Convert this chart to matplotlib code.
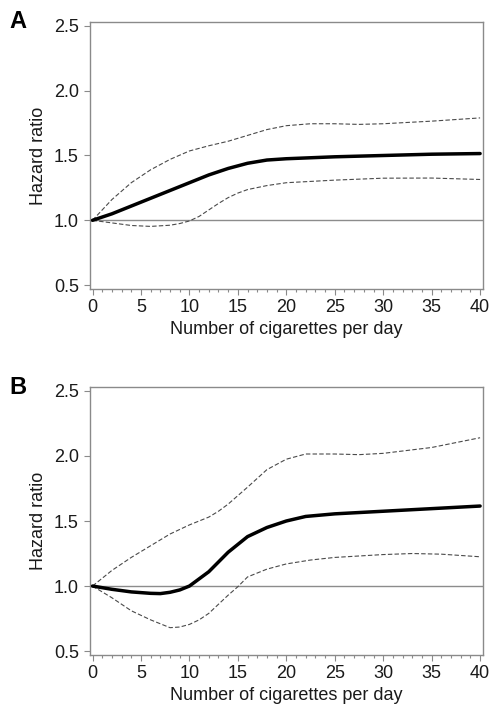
import matplotlib
matplotlib.use("Agg")
import matplotlib.pyplot as plt
from matplotlib.ticker import MultipleLocator

plt.rcParams['font.family'] = ['Liberation Sans', 'DejaVu Sans']

# Panel A data
a_x_mid = [0, 2, 4, 6, 8, 10, 12, 14, 16, 18, 20, 25, 30, 35, 40]
a_mid = [1.0, 1.05, 1.11, 1.17, 1.23, 1.29, 1.35, 1.40, 1.44, 1.465, 1.475, 1.49, 1.50, 1.51, 1.515]
a_x_up = [0, 2, 4, 6, 8, 10, 12, 14, 16, 18, 20, 22.5, 25, 27.5, 30, 35, 40]
a_up = [1.0, 1.16, 1.29, 1.39, 1.47, 1.535, 1.575, 1.61, 1.655, 1.70, 1.73, 1.745, 1.745, 1.74, 1.745, 1.765, 1.79]
a_x_lo = [0, 2, 4, 6, 8, 9, 10, 11, 12, 13, 14, 15, 16, 18, 20, 25, 30, 35, 40]
a_lo = [1.0, 0.98, 0.96, 0.953, 0.962, 0.975, 0.995, 1.03, 1.08, 1.13, 1.175, 1.21, 1.237, 1.268, 1.29, 1.31, 1.325, 1.326, 1.315]

# Panel B data
b_x_mid = [0, 2, 4, 6, 7, 8, 9, 10, 12, 14, 16, 18, 20, 22, 25, 30, 35, 40]
b_mid = [1.0, 0.975, 0.955, 0.944, 0.942, 0.952, 0.97, 1.0, 1.11, 1.26, 1.38, 1.45, 1.50, 1.535, 1.555, 1.575, 1.595, 1.615]
b_x_up = [0, 2, 4, 6, 8, 10, 12, 13, 14, 16, 18, 20, 22, 25, 27.5, 30, 35, 40]
b_up = [1.0, 1.12, 1.22, 1.31, 1.40, 1.47, 1.53, 1.575, 1.63, 1.76, 1.895, 1.975, 2.015, 2.015, 2.01, 2.02, 2.065, 2.14]
b_x_lo = [0, 2, 4, 6, 8, 9, 10, 11, 12, 13, 14, 15, 16, 18, 20, 22.5, 25, 30, 33, 36, 40]
b_lo = [1.0, 0.91, 0.81, 0.74, 0.68, 0.685, 0.705, 0.74, 0.79, 0.86, 0.93, 0.995, 1.07, 1.13, 1.17, 1.2, 1.22, 1.242, 1.25, 1.245, 1.225]

x_ticks = [0, 5, 10, 15, 20, 25, 30, 35, 40]
y_ticks = [0.5, 1.0, 1.5, 2.0, 2.5]
y_tick_labels = ['0.5', '1.0', '1.5', '2.0', '2.5']
x_label = 'Number of cigarettes per day'
y_label = 'Hazard ratio'

fig = plt.figure(figsize=(4.91, 7.11), dpi=100)
axA = fig.add_axes([90/491, 1-289/711, 393/491, 267/711])
axB = fig.add_axes([90/491, 1-655/711, 393/491, 268/711])

spine_col = '#8a8a8a'
fs = 13
for ax, (xm, ym, xu, yu, xl, yl), lab in [
        (axA, (a_x_mid, a_mid, a_x_up, a_up, a_x_lo, a_lo), 'A'),
        (axB, (b_x_mid, b_mid, b_x_up, b_up, b_x_lo, b_lo), 'B')]:
    ax.axhline(1.0, color='#8c8c8c', lw=1.0, zorder=1)
    ax.plot(xu, yu, color='#4a4a4a', lw=0.8, ls=(0, (4, 2)), zorder=2)
    ax.plot(xl, yl, color='#4a4a4a', lw=0.8, ls=(0, (4, 2)), zorder=2)
    ax.plot(xm, ym, color='black', lw=2.5, zorder=3, solid_capstyle='round')
    ax.set_xlim(-0.26, 40.3)
    ax.set_ylim(0.47, 2.53)
    ax.set_xticks(x_ticks)
    ax.set_yticks(y_ticks)
    ax.set_yticklabels(y_tick_labels)
    ax.xaxis.set_minor_locator(MultipleLocator(1))
    for s in ax.spines.values():
        s.set_color(spine_col)
        s.set_linewidth(1.0)
    ax.tick_params(axis='both', which='major', direction='out', length=4,
                   width=0.8, color=spine_col, labelsize=fs, labelcolor='#1a1a1a')
    ax.tick_params(axis='x', which='minor', direction='out', length=2.5,
                   width=0.8, color=spine_col)
    ax.tick_params(axis='x', which='major', pad=3)
    ax.tick_params(axis='y', which='major', pad=4)
    ax.set_xlabel(x_label, fontsize=fs, color='#1a1a1a', labelpad=4)
    ax.set_ylabel(y_label, fontsize=fs, color='#1a1a1a', labelpad=5)
    ax.text(-0.205, 1.0, lab, transform=ax.transAxes, fontsize=17,
            fontweight='bold', ha='left', va='center')

fig.savefig('out.png', dpi=100)
